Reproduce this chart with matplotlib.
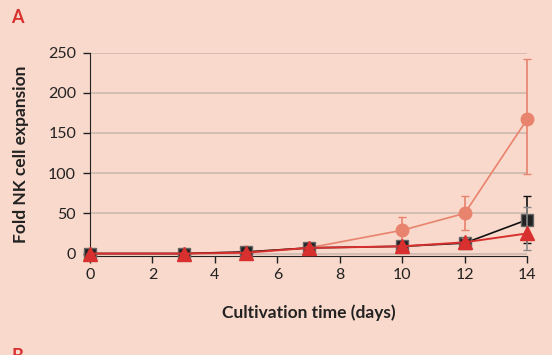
import matplotlib.pyplot as plt
import numpy as np

plt.rcParams['font.family'] = ['Lato', 'DejaVu Sans']

# data
days = [0, 3, 5, 7, 10, 12, 14]
circle = [0, 0, 2, 7, 29, 50, 167]
circle_up = [0, 0, 1, 2, 16, 21, 75]
circle_lo = [0, 0, 1, 2, 16, 21, 68]
square = [0, 0, 2, 7, 9, 13, 42]
square_up = [0, 0, 1, 2, 2, 4, 29]
square_lo = [0, 0, 1, 2, 2, 4, 29]
tri = [0, 0, 1, 7, 9, 14, 25]
tri_up = [0, 0, 1, 2, 2, 5, 33]
tri_lo = [0, 0, 1, 2, 2, 5, 21]

bg = '#f9d9cb'
salmon = '#e8836e'
red = '#d8302e'

fig = plt.figure(figsize=(5.52, 3.55), dpi=100, facecolor=bg)
ax = fig.add_axes([0.163, 0.279, 0.792, 0.573], facecolor=bg)

series = [
    (circle, circle_lo, circle_up, dict(color=salmon, marker='o', markersize=9, lw=1.2), salmon, 3),
    (square, square_lo, square_up, dict(color='#111111', marker='s', markersize=8,
                                        markerfacecolor='#222222', markeredgecolor='#666666', lw=1.2), '#111111', 4),
    (tri, tri_lo, tri_up, dict(color=red, marker='^', markersize=10, lw=1.4), '#8a8a8a', 5),
]
for y, lo, up, kw, ecol, z in series:
    cont = ax.errorbar(days, y, yerr=[lo, up], ecolor=ecol, capsize=3, elinewidth=1.2, zorder=z, **kw)
    for art in cont.get_children():
        art.set_clip_on(False)

ax.set_xlim(0, 14)
ax.set_ylim(-3, 250)
ax.set_xticks(np.arange(0, 15, 2))
ax.set_yticks(np.arange(0, 251, 50))
ax.yaxis.grid(True, color='#cdb9b0', lw=1.2)
ax.set_axisbelow(True)
for s in ['top', 'right']:
    ax.spines[s].set_visible(False)
ax.spines['left'].set_bounds(0, 250)
ax.spines['left'].set_color('#222222')
ax.spines['bottom'].set_color('#222222')
ax.tick_params(direction='out', length=5, labelsize=11.5, colors='#222222', width=1)
ax.tick_params(axis='y', pad=5)

ax.set_xlabel('Cultivation time (days)', fontsize=12.5, fontweight='bold', color='#222222', labelpad=16)
ax.set_ylabel('Fold NK cell expansion', fontsize=12.5, fontweight='bold', color='#222222', labelpad=14)

fig.text(0.021, 0.975, 'A', color=red, fontsize=13, fontweight='bold', va='top')
fig.text(0.021, -0.003, 'B', color=red, fontsize=13, fontweight='bold', va='center')

plt.savefig('out.png', dpi=100, facecolor=bg)
